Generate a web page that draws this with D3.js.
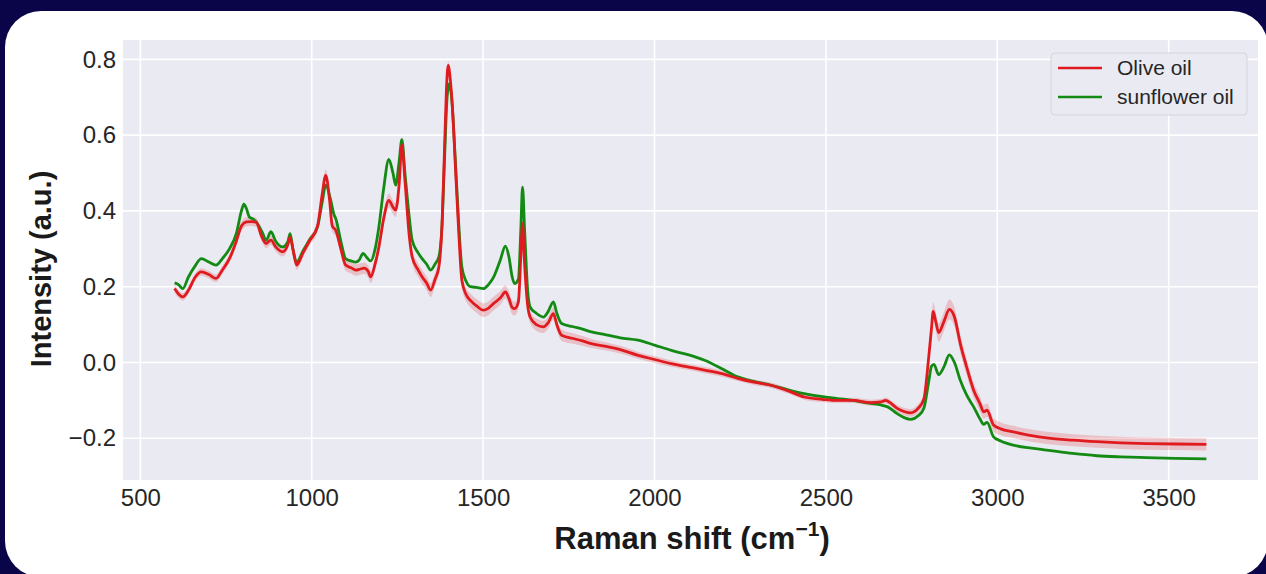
<!DOCTYPE html>
<html>
<head>
<meta charset="utf-8">
<script src="https://cdn.jsdelivr.net/npm/d3@7"></script>
<style>
  html, body { margin: 0; padding: 0; background: #0a0448; }
  svg { display: block; }
</style>
</head>
<body>
<article></article>
<script>
// Data (Raman shift in cm-1, mean intensity, red std)
const oliveOil = [
  [600, 0.195, 0.010], [612, 0.18, 0.010], [624, 0.173, 0.010], [640, 0.19, 0.010],
  [660, 0.225, 0.010], [678, 0.239, 0.010], [700, 0.232, 0.010], [721, 0.222, 0.010],
  [740, 0.245, 0.011], [760, 0.274, 0.011], [780, 0.32, 0.012], [795, 0.36, 0.012],
  [810, 0.371, 0.012], [825, 0.372, 0.012], [838, 0.37, 0.012], [855, 0.33, 0.012],
  [867, 0.314, 0.012], [881, 0.323, 0.012], [895, 0.305, 0.012], [915, 0.292, 0.012],
  [930, 0.31, 0.012], [937, 0.331, 0.012], [945, 0.30, 0.012], [956, 0.257, 0.012],
  [975, 0.29, 0.012], [993, 0.32, 0.012], [1017, 0.36, 0.013], [1030, 0.44, 0.014],
  [1041, 0.494, 0.015], [1052, 0.43, 0.015], [1060, 0.36, 0.015], [1070, 0.349, 0.015],
  [1085, 0.30, 0.015], [1099, 0.257, 0.015], [1115, 0.25, 0.015], [1128, 0.244, 0.015],
  [1140, 0.246, 0.015], [1153, 0.249, 0.015], [1165, 0.24, 0.016], [1172, 0.226, 0.016],
  [1185, 0.26, 0.016], [1196, 0.305, 0.017], [1210, 0.38, 0.018], [1225, 0.428, 0.018],
  [1237, 0.41, 0.018], [1245, 0.402, 0.018], [1255, 0.47, 0.018], [1263, 0.575, 0.018],
  [1272, 0.48, 0.018], [1285, 0.33, 0.018], [1293, 0.279, 0.018], [1310, 0.245, 0.018],
  [1322, 0.226, 0.018], [1335, 0.21, 0.018], [1347, 0.191, 0.018], [1360, 0.22, 0.018],
  [1371, 0.252, 0.018], [1380, 0.36, 0.018], [1388, 0.58, 0.015], [1393, 0.72, 0.012],
  [1398, 0.784, 0.010], [1404, 0.75, 0.010], [1412, 0.65, 0.012], [1419, 0.52, 0.015],
  [1428, 0.36, 0.018], [1438, 0.217, 0.018], [1450, 0.18, 0.018], [1463, 0.164, 0.018],
  [1480, 0.15, 0.018], [1501, 0.138, 0.018], [1515, 0.143, 0.018], [1531, 0.156, 0.018],
  [1550, 0.17, 0.018], [1565, 0.186, 0.018], [1575, 0.17, 0.018], [1585, 0.145, 0.018],
  [1592, 0.142, 0.018], [1603, 0.16, 0.018], [1610, 0.28, 0.016], [1615, 0.367, 0.014],
  [1621, 0.26, 0.016], [1630, 0.15, 0.016], [1637, 0.12, 0.016], [1655, 0.10, 0.016],
  [1676, 0.094, 0.016], [1690, 0.105, 0.016], [1705, 0.129, 0.016], [1715, 0.10, 0.015],
  [1729, 0.072, 0.015], [1760, 0.064, 0.014], [1790, 0.057, 0.013], [1816, 0.05, 0.012],
  [1850, 0.044, 0.011], [1900, 0.034, 0.010], [1952, 0.019, 0.009], [2000, 0.008, 0.009],
  [2049, -0.003, 0.008], [2100, -0.012, 0.008], [2146, -0.02, 0.008], [2200, -0.03, 0.008],
  [2243, -0.042, 0.007], [2290, -0.052, 0.007], [2340, -0.06, 0.007], [2390, -0.075, 0.007],
  [2437, -0.091, 0.007], [2490, -0.097, 0.007], [2533, -0.1, 0.007], [2580, -0.1, 0.007],
  [2630, -0.106, 0.008], [2660, -0.104, 0.008], [2674, -0.1, 0.008], [2690, -0.108, 0.008],
  [2708, -0.121, 0.009], [2730, -0.13, 0.010], [2747, -0.133, 0.010], [2770, -0.12, 0.011],
  [2786, -0.095, 0.012], [2800, 0.015, 0.018], [2808, 0.09, 0.022], [2813, 0.135, 0.024],
  [2820, 0.11, 0.024], [2829, 0.079, 0.024], [2845, 0.11, 0.025], [2860, 0.14, 0.026],
  [2875, 0.12, 0.025], [2892, 0.05, 0.024], [2910, -0.01, 0.022], [2931, -0.073, 0.020],
  [2950, -0.11, 0.019], [2960, -0.13, 0.018], [2970, -0.126, 0.018], [2989, -0.165, 0.017],
  [3010, -0.175, 0.017], [3047, -0.183, 0.016], [3100, -0.193, 0.016], [3144, -0.199, 0.016],
  [3220, -0.205, 0.016], [3290, -0.209, 0.016], [3360, -0.212, 0.016], [3435, -0.214, 0.016],
  [3520, -0.215, 0.016], [3610, -0.216, 0.016],
];

const sunflowerOil = [
  [600, 0.21], [612, 0.205], [624, 0.195], [640, 0.225], [660, 0.255], [678, 0.274],
  [700, 0.265], [721, 0.257], [740, 0.275], [760, 0.30], [780, 0.34], [795, 0.40],
  [802, 0.418], [810, 0.405], [818, 0.384], [830, 0.378], [838, 0.371], [855, 0.345],
  [867, 0.323], [881, 0.345], [895, 0.32], [915, 0.305], [930, 0.318], [937, 0.34],
  [945, 0.30], [956, 0.265], [975, 0.295], [993, 0.323], [1017, 0.358], [1030, 0.42],
  [1041, 0.468], [1055, 0.43], [1065, 0.39], [1070, 0.38], [1085, 0.32], [1099, 0.274],
  [1115, 0.268], [1128, 0.265], [1138, 0.27], [1150, 0.288], [1160, 0.278], [1172, 0.268],
  [1185, 0.30], [1196, 0.358], [1210, 0.46], [1225, 0.536], [1237, 0.50], [1245, 0.468],
  [1255, 0.53], [1263, 0.588], [1272, 0.50], [1285, 0.38], [1293, 0.323], [1310, 0.29],
  [1322, 0.274], [1335, 0.26], [1347, 0.244], [1360, 0.26], [1371, 0.279], [1380, 0.36],
  [1388, 0.55], [1395, 0.70], [1401, 0.736], [1408, 0.70], [1419, 0.534], [1428, 0.38],
  [1438, 0.252], [1450, 0.215], [1463, 0.20], [1480, 0.198], [1501, 0.195], [1515, 0.205],
  [1531, 0.226], [1550, 0.27], [1565, 0.307], [1575, 0.28], [1585, 0.225], [1592, 0.208],
  [1603, 0.22], [1610, 0.35], [1615, 0.463], [1621, 0.35], [1630, 0.19], [1637, 0.147],
  [1655, 0.13], [1676, 0.12], [1690, 0.135], [1705, 0.16], [1715, 0.13], [1729, 0.103],
  [1760, 0.095], [1790, 0.088], [1816, 0.081], [1850, 0.075], [1900, 0.065], [1952, 0.059],
  [2000, 0.046], [2049, 0.032], [2100, 0.02], [2146, 0.006], [2200, -0.018], [2243, -0.038],
  [2290, -0.05], [2340, -0.06], [2390, -0.072], [2437, -0.082], [2490, -0.09], [2533, -0.095],
  [2580, -0.1], [2630, -0.108], [2660, -0.112], [2680, -0.117], [2708, -0.135], [2730, -0.146],
  [2747, -0.15], [2770, -0.14], [2786, -0.12], [2800, -0.05], [2808, -0.01], [2815, -0.005],
  [2829, -0.032], [2845, -0.01], [2860, 0.02], [2875, 0.0], [2892, -0.047], [2910, -0.085],
  [2931, -0.117], [2950, -0.15], [2960, -0.163], [2970, -0.158], [2989, -0.196], [3010, -0.207],
  [3047, -0.218], [3100, -0.226], [3144, -0.231], [3220, -0.24], [3290, -0.246], [3360, -0.249],
  [3435, -0.251], [3520, -0.253], [3610, -0.254],
];

const xTicks = [500, 1000, 1500, 2000, 2500, 3000, 3500];
const yTicks = [-0.2, 0.0, 0.2, 0.4, 0.6, 0.8];
const seriesNames = ['Olive oil', 'sunflower oil'];

(() => {
  const WIDTH = 1266;
  const HEIGHT = 574;
  const FONT = "'Liberation Sans', Arial, sans-serif";
  const RED = '#e01b20';
  const GREEN = '#138a13';

  const plot = { left: 123, right: 1258, top: 40, bottom: 480 };

  const svg = d3
    .select('article')
    .append('svg')
    .attr('width', WIDTH)
    .attr('height', HEIGHT)
    .attr('viewBox', `0 0 ${WIDTH} ${HEIGHT}`);

  // Background + white card
  svg.append('rect').attr('width', WIDTH).attr('height', HEIGHT).attr('fill', '#0a0448');
  svg
    .append('rect')
    .attr('x', 5)
    .attr('y', 11)
    .attr('width', 1263)
    .attr('height', 566)
    .attr('rx', 36)
    .attr('fill', '#ffffff');

  // Scales
  const x = d3.scaleLinear().domain([449.5, 3760.5]).range([plot.left, plot.right]);
  const y = d3.scaleLinear().domain([-0.31, 0.851]).range([plot.bottom, plot.top]);

  // Plot background
  svg
    .append('rect')
    .attr('x', plot.left)
    .attr('y', plot.top)
    .attr('width', plot.right - plot.left)
    .attr('height', plot.bottom - plot.top)
    .attr('fill', '#eaeaf2');

  // Grid
  const grid = svg.append('g').attr('stroke', '#ffffff').attr('stroke-width', 1.6);
  grid
    .selectAll('.vgrid')
    .data(xTicks)
    .join('line')
    .attr('x1', (d) => x(d))
    .attr('x2', (d) => x(d))
    .attr('y1', plot.top)
    .attr('y2', plot.bottom);
  grid
    .selectAll('.hgrid')
    .data(yTicks)
    .join('line')
    .attr('y1', (d) => y(d))
    .attr('y2', (d) => y(d))
    .attr('x1', plot.left)
    .attr('x2', plot.right);

  // Axes (labels only, seaborn style has no spines/ticks)
  const xAxis = svg
    .append('g')
    .attr('transform', `translate(0,${plot.bottom})`)
    .call(d3.axisBottom(x).tickValues(xTicks).tickSize(0).tickPadding(9).tickFormat(d3.format('d')));
  const yAxis = svg
    .append('g')
    .attr('transform', `translate(${plot.left},0)`)
    .call(d3.axisLeft(y).tickValues(yTicks).tickSize(0).tickPadding(7).tickFormat((d) => d3.format('.1f')(d).replace('-', '\u2212')));
  [xAxis, yAxis].forEach((g) => {
    g.select('.domain').remove();
    g.selectAll('text')
      .attr('font-family', FONT)
      .attr('font-size', 24)
      .attr('fill', '#262626');
  });

  // Red std band
  const band = d3
    .area()
    .x((d) => x(d[0]))
    .y0((d) => y(d[1] - d[2]))
    .y1((d) => y(d[1] + d[2]))
    .curve(d3.curveMonotoneX);
  svg.append('path').datum(oliveOil).attr('d', band).attr('fill', RED).attr('fill-opacity', 0.2);

  const line = d3
    .line()
    .x((d) => x(d[0]))
    .y((d) => y(d[1]))
    .curve(d3.curveMonotoneX);

  svg
    .append('path')
    .datum(sunflowerOil)
    .attr('d', line)
    .attr('fill', 'none')
    .attr('stroke', GREEN)
    .attr('stroke-width', 2.8)
    .attr('stroke-linejoin', 'round');
  svg
    .append('path')
    .datum(oliveOil)
    .attr('d', line)
    .attr('fill', 'none')
    .attr('stroke', RED)
    .attr('stroke-width', 2.8)
    .attr('stroke-linejoin', 'round');

  // Axis titles
  const xLabel = svg
    .append('text')
    .attr('x', 692)
    .attr('y', 549)
    .attr('text-anchor', 'middle')
    .attr('font-family', FONT)
    .attr('font-weight', 'bold')
    .attr('font-size', 31)
    .attr('fill', '#1a1a1a');
  xLabel.append('tspan').text('Raman shift (cm');
  xLabel.append('tspan').attr('font-size', 21).attr('dy', -13).text('\u22121');
  xLabel.append('tspan').attr('dy', 13).text(')');

  svg
    .append('text')
    .attr('transform', `translate(51,269) rotate(-90)`)
    .attr('text-anchor', 'middle')
    .attr('font-family', FONT)
    .attr('font-weight', 'bold')
    .attr('font-size', 29)
    .attr('fill', '#1a1a1a')
    .text('Intensity (a.u.)');

  // Legend
  const legend = svg.append('g').attr('transform', 'translate(1051,53)');
  legend
    .append('rect')
    .attr('width', 196)
    .attr('height', 62)
    .attr('rx', 4)
    .attr('fill', '#eaeaf2')
    .attr('stroke', '#d4d4dc')
    .attr('stroke-width', 1);
  const items = legend
    .selectAll('g')
    .data(seriesNames)
    .join('g')
    .attr('transform', (d, i) => `translate(0,${15 + i * 29})`);
  items
    .append('line')
    .attr('x1', 7)
    .attr('x2', 51)
    .attr('stroke', (d, i) => (i === 0 ? RED : GREEN))
    .attr('stroke-width', 2.6);
  items
    .append('text')
    .attr('x', 66)
    .attr('dy', '0.35em')
    .attr('font-family', FONT)
    .attr('font-size', 21)
    .attr('fill', '#262626')
    .text((d) => d);
})();
</script>
</body>
</html>
